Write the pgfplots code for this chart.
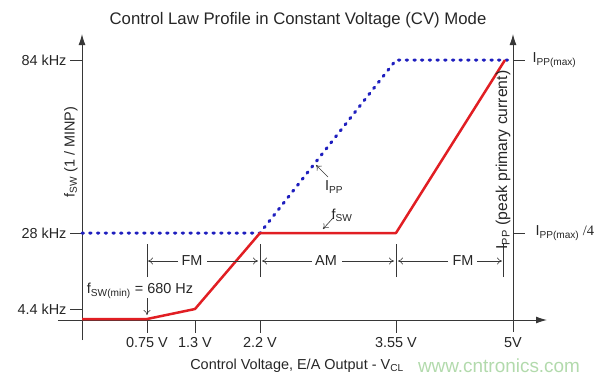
\documentclass[border=0pt]{standalone}
\usepackage{pgfplots}
\pgfplotsset{compat=1.18}
\usepackage{fontspec}
\setmainfont{Liberation Sans}
\newfontfamily\seriffont{Liberation Serif}
\usetikzlibrary{arrows.meta}

\definecolor{redline}{RGB}{225,30,35}
\definecolor{blueline}{RGB}{30,30,190}
\definecolor{axisgray}{RGB}{55,55,55}
\definecolor{wm}{RGB}{178,218,172}
\newcommand\fs{\fontsize{14.5}{17}\selectfont}
\newcommand\sub[1]{\textsubscript{#1}}

\begin{document}
\begin{tikzpicture}[x=1bp,y=1bp]
\useasboundingbox (-82,-62) rectangle (518,320);
\begin{axis}[
  at={(0,0)}, anchor=origin,
  x=1bp, y=1bp,
  xmin=-24, xmax=465, ymin=-20, ymax=286,
  axis lines=center,
  axis line style={axisgray, line width=1bp, -{Latex[length=11bp,width=7bp]}},
  xtick={65,113,178,314,431},
  xticklabels={0.75 V,1.3 V,2.2 V,3.55 V,5V},
  ytick={260,87,11},
  yticklabels={84 kHz,28 kHz,4.4 kHz},
  major tick length=0pt,
  ticklabel style={font=\fs, text=black!85},
  xticklabel style={anchor=north, yshift=-14bp},
  yticklabel style={anchor=east, xshift=-12bp},
  clip=false,
]
% tick marks
\draw[axisgray, line width=1bp] (-12,260) -- (0,260);
\draw[axisgray, line width=1bp] (-12,87) -- (0,87);
\draw[axisgray, line width=1bp] (-12,11) -- (0,11);
\draw[axisgray, line width=1bp] (65,0) -- (65,-13);
\draw[axisgray, line width=1bp] (113,0) -- (113,-13);
\draw[axisgray, line width=1bp] (178,0) -- (178,-13);
\draw[axisgray, line width=1bp] (314,0) -- (314,-13);
% right axis
\draw[axisgray, line width=1bp, -{Latex[length=11bp,width=7bp]}] (431,-12) -- (431,286);
\draw[axisgray, line width=1bp] (431,260) -- (443,260);
\draw[axisgray, line width=1bp] (431,87) -- (443,87);
\node[anchor=west, font=\fs, text=black!85] at (447,260) {I\sub{PP(max)}};
\node[anchor=west, font=\fs, text=black!85] at (450,87) {I\sub{PP(max)}{\seriffont\ /4}};

% data
\addplot[blueline, line width=3bp, line cap=round, dash pattern=on 1.5bp off 6.2bp] coordinates {(0,87) (178,87) (314,260) (431,260)};
\addplot[redline, line width=2.5bp, line join=round] coordinates {(0,1) (65,1) (113,11) (178,87) (314,87) (423,260)};

% region bars
\draw[axisgray, line width=0.8bp] (65,43) -- (65,76);
\draw[axisgray, line width=0.8bp] (178,43) -- (178,76);
\draw[axisgray, line width=0.8bp] (314,43) -- (314,76);
\draw[axisgray, line width=0.8bp] (421,43) -- (421,76);
\tikzset{reg/.style={axisgray, line width=0.6bp, -{To[length=5bp,width=7bp]}}}
\draw[reg] (96,59) -- (66,59);
\draw[reg] (125,59) -- (176,59);
\node[font=\fs, text=black!85] at (110,59) {FM};
\draw[reg] (230,59) -- (180,59);
\draw[reg] (260,59) -- (312,59);
\node[font=\fs, text=black!85] at (244,59) {AM};
\draw[reg] (366,59) -- (316,59);
\draw[reg] (395,59) -- (420,59);
\node[font=\fs, text=black!85] at (381,59) {FM};

% annotations
\node[font=\fs, text=black!85] at (58,29) {f\sub{SW(min)} = 680 Hz};
\draw[reg] (65,22) -- (65,5);
\node[font=\fs, text=black!85] at (252,133) {I\sub{PP}};
\draw[reg] (246,143) -- (234,155);
\node[font=\fs, text=black!85] at (260,105) {f\sub{SW}};
\draw[reg] (251,102) -- (241,91);

% axis labels
\node[font=\fs, text=black!85, rotate=90] at (-11,168) {f\sub{SW} (1 / MINP)};
\node[font=\fontsize{15.8}{18}\selectfont, text=black!85, rotate=90] at (421,160) {I\sub{PP} (peak primary current)};
\node[font=\fs, text=black!85] at (215,-46) {Control Voltage, E/A Output - V\sub{CL}};
\node[font=\fontsize{19}{22}\selectfont, text=wm] at (417,-46) {www.cntronics.com};
\node[font=\fontsize{16.8}{20}\selectfont, text=black!85] at (216,300) {Control Law Profile in Constant Voltage (CV) Mode};
\end{axis}
\end{tikzpicture}
\end{document}
